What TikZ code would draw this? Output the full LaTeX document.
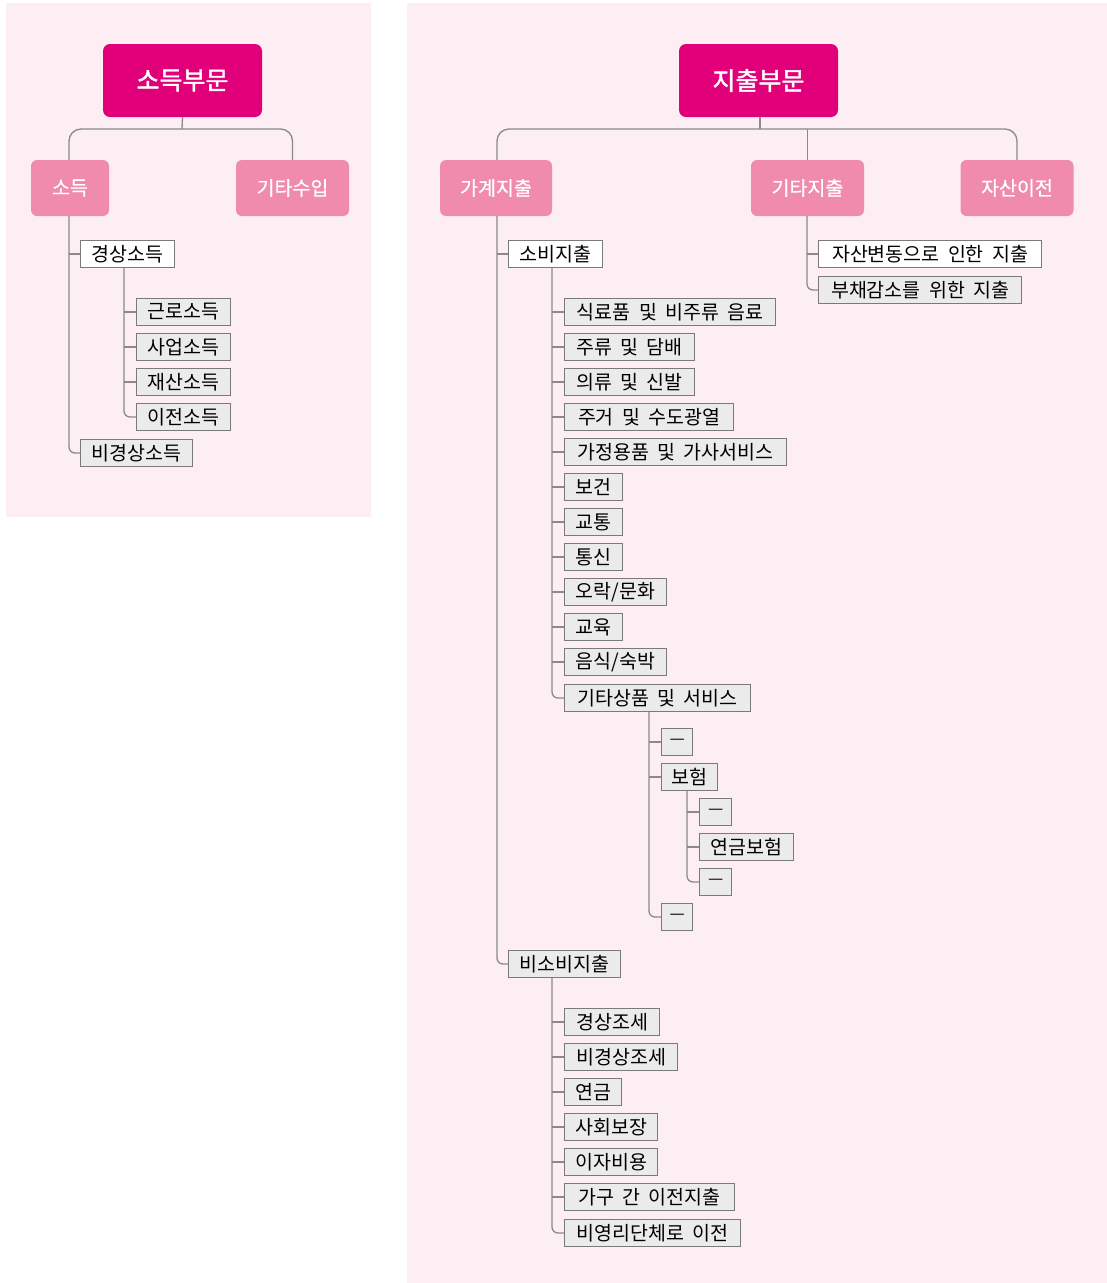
\documentclass[tikz,border=0pt]{standalone}
\usepackage{fontspec}
\setmainfont{Noto Sans CJK KR}
\newfontfamily\kr[WordSpace=1.9]{Noto Sans CJK KR}
\newfontfamily\krb[FakeBold=1.6]{Noto Sans CJK KR}
\newfontfamily\krm[FakeBold=0.7]{Noto Sans CJK KR}
\definecolor{hdrc}{HTML}{E2007A}
\definecolor{subc}{HTML}{F08BAE}
\definecolor{bgc}{HTML}{FCEEF3}
\definecolor{linec}{HTML}{8A8A8A}
\definecolor{bordc}{HTML}{7A7A7A}
\definecolor{leafc}{HTML}{EBEBEB}
\newcommand\dsh{{\fontsize{17}{17}\selectfont —}}
\begin{document}
\begin{tikzpicture}[x=1pt,y=-1pt,
  hdr/.style={fill=hdrc, rounded corners=7pt, text=white, inner sep=0, font=\krb\fontsize{25}{25}\selectfont},
  sub/.style={fill=subc, rounded corners=6pt, text=white, inner sep=0, minimum height=56, font=\krm\fontsize{19.5}{19.5}\selectfont},
  leaf/.style={draw=bordc, fill=leafc, line width=1.2pt, inner sep=0, minimum height=27, anchor=west, font=\kr\fontsize{19.5}{19.5}\selectfont},
  wleaf/.style={leaf, fill=white},
  conn/.style={draw=linec, line width=1.3pt},
  lastc/.style={conn, rounded corners=6pt},
  topc/.style={conn, rounded corners=12pt}]
\useasboundingbox (0,0) rectangle (1107,1283);
% panels
\fill[bgc] (6,3) rectangle (371,517);
\fill[bgc] (407,3) rectangle (1107,1283);

% ===== left: income =====
\node[hdr, minimum width=159, minimum height=73] (inc) at (182.5,80.5) {소득부문};
\node[sub, minimum width=78] (so) at (70,188) {소득};
\node[sub, minimum width=113] (gs) at (292.5,188) {기타수입};
\coordinate (h1) at (182,129);
\draw[conn] (inc.south) -- (h1);
\draw[topc] (so.north -| 69,0) |- (h1) -| (gs.north);

\node[wleaf, minimum width=94] (kg) at (80,254) {경상소득};
\node[leaf, minimum width=94] (l1) at (136,312) {근로소득};
\node[leaf, minimum width=94] (l2) at (136,347) {사업소득};
\node[leaf, minimum width=94] (l3) at (136,382) {재산소득};
\node[leaf, minimum width=94] (l4) at (136,417) {이전소득};
\node[leaf, minimum width=112] (bk) at (80,453) {비경상소득};

\coordinate (t1) at (69,216);
\draw[lastc] (t1) |- (bk.west);
\draw[conn] (kg.west) -- (kg.west -| t1);
\coordinate (t2) at (124,268);
\draw[lastc] (t2) |- (l4.west);
\foreach \n in {l1,l2,l3} \draw[conn] (\n.west) -- (\n.west -| t2);

% ===== right: expenditure =====
\node[hdr, minimum width=159, minimum height=73] (exp) at (758.5,80.5) {지출부문};
\node[sub, minimum width=112] (gg) at (496,188) {가계지출};
\node[sub, minimum width=113] (gj) at (807.5,188) {기타지출};
\node[sub, minimum width=113] (ja) at (1017,188) {자산이전};
\coordinate (h2) at (760,129);
\draw[conn] (exp.south -| h2) -- (h2);
\draw[topc] (gg.north -| 497,0) |- (h2) -| (ja.north);
\draw[conn] (gj.north) -- (gj.north |- h2);

% other expenditure children
\node[wleaf, minimum width=223] (o1) at (818,254) {자산변동으로 인한 지출};
\node[leaf, minimum width=203] (o2) at (818,290) {부채감소를 위한 지출};
\coordinate (t3) at (807,216);
\draw[lastc] (t3) |- (o2.west);
\draw[conn] (o1.west) -- (o1.west -| t3);

% household expenditure
\node[wleaf, minimum width=94] (sb) at (508,254) {소비지출};
\node[leaf, minimum width=112] (nsb) at (508,964) {비소비지출};
\coordinate (t4) at (497,216);
\draw[lastc] (t4) |- (nsb.west);
\draw[conn] (sb.west) -- (sb.west -| t4);

\node[leaf, minimum width=211] (c1) at (564,312) {식료품 및 비주류 음료};
\node[leaf, minimum width=130] (c2) at (564,347) {주류 및 담배};
\node[leaf, minimum width=130] (c3) at (564,382) {의류 및 신발};
\node[leaf, minimum width=169] (c4) at (564,417) {주거 및 수도광열};
\node[leaf, minimum width=222] (c5) at (564,452) {가정용품 및 가사서비스};
\node[leaf, minimum width=58] (c6) at (564,487) {보건};
\node[leaf, minimum width=58] (c7) at (564,522) {교통};
\node[leaf, minimum width=58] (c8) at (564,557) {통신};
\node[leaf, minimum width=102] (c9) at (564,592) {오락/문화};
\node[leaf, minimum width=58] (c10) at (564,627) {교육};
\node[leaf, minimum width=102] (c11) at (564,662) {음식/숙박};
\node[leaf, minimum width=186] (c12) at (564,698) {기타상품 및 서비스};
\coordinate (t5) at (552,268);
\draw[lastc] (t5) |- (c12.west);
\foreach \n in {c1,c2,c3,c4,c5,c6,c7,c8,c9,c10,c11} \draw[conn] (\n.west) -- (\n.west -| t5);

\node[leaf, minimum width=31] (d1) at (661,742) {\dsh};
\node[leaf, minimum width=56] (d2) at (661,777) {보험};
\node[leaf, minimum width=31] (d3) at (661,917) {\dsh};
\coordinate (t6) at (649,712);
\draw[lastc] (t6) |- (d3.west);
\foreach \n in {d1,d2} \draw[conn] (\n.west) -- (\n.west -| t6);

\node[leaf, minimum width=32] (e1) at (699,812) {\dsh};
\node[leaf, minimum width=94] (e2) at (699,847) {연금보험};
\node[leaf, minimum width=32] (e3) at (699,882) {\dsh};
\coordinate (t7) at (687,791);
\draw[lastc] (t7) |- (e3.west);
\foreach \n in {e1,e2} \draw[conn] (\n.west) -- (\n.west -| t7);

\node[leaf, minimum width=95] (n1) at (564,1022) {경상조세};
\node[leaf, minimum width=113] (n2) at (564,1057) {비경상조세};
\node[leaf, minimum width=57] (n3) at (564,1092) {연금};
\node[leaf, minimum width=93] (n4) at (564,1127) {사회보장};
\node[leaf, minimum width=93] (n5) at (564,1162) {이자비용};
\node[leaf, minimum width=170] (n6) at (564,1197) {가구 간 이전지출};
\node[leaf, minimum width=176] (n7) at (564,1233) {비영리단체로 이전};
\coordinate (t8) at (552,978);
\draw[lastc] (t8) |- (n7.west);
\foreach \n in {n1,n2,n3,n4,n5,n6} \draw[conn] (\n.west) -- (\n.west -| t8);
\end{tikzpicture}
\end{document}
